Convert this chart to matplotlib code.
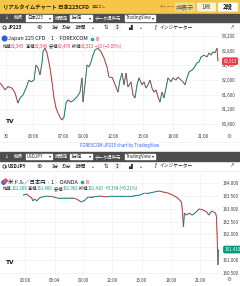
import matplotlib
matplotlib.use("Agg")
import matplotlib.pyplot as plt
import matplotlib.transforms as mtransforms
from matplotlib.collections import LineCollection
from matplotlib.patches import Rectangle, FancyBboxPatch, Circle
import numpy as np

plt.rcParams['font.family'] = ['Noto Sans CJK JP', 'DejaVu Sans']

W, H = 240, 286

# 日本225CFD 1分足 (時刻は取引時間ベース)
jp_hours = [-0.6, -0.3, -0.1, 0.2, 0.6, 0.9, 1.2, 1.4, 1.7, 2.0,
            2.3, 2.5, 2.8, 3.0, 3.2, 3.4, 3.6, 3.7, 3.9, 4.1,
            4.4, 4.6, 4.8, 5.0, 5.2, 5.4, 5.6, 5.8, 6.0, 6.2,
            6.5, 6.8, 7.1, 7.4, 7.6, 7.7, 7.9, 8.1, 8.3, 8.5,
            8.7, 8.9, 9.2, 9.5, 9.8, 10.1, 10.3, 10.6, 10.8, 11.0,
            11.2, 11.4, 11.6, 11.8, 12.0, 12.2, 12.5, 12.7, 12.9, 13.1,
            13.3, 13.6, 13.8, 14.0, 14.2, 14.4, 14.6, 14.8, 15.0, 15.2,
            15.4, 15.6, 15.8, 16.0, 16.2, 16.5, 16.7, 17.0, 17.2, 17.5,
            17.7, 17.9, 18.1, 18.3, 18.6, 18.8, 19.1, 19.3, 19.5, 19.8,
            20.1, 20.3, 20.5, 20.7, 20.9, 21.1, 21.2]
jp_close = [61920, 61820, 61730, 61820, 61780, 61650, 61370, 61510, 61590, 61780,
            62000, 61950, 62000, 62410, 62330, 62140, 62470, 62770, 62870, 62740,
            62330, 61950, 61510, 61240, 61100, 60990, 60910, 60990, 61370, 61460,
            61400, 61460, 61540, 61670, 62060, 61400, 61870, 62410, 62360, 62490,
            62680, 62820, 62870, 62770, 62600, 62360, 62080, 62080, 61950, 61810,
            61670, 62000, 62190, 61870, 62190, 61810, 61950, 61590, 61510, 61870,
            62060, 61870, 61950, 61780, 61870, 62000, 61780, 61670, 61730, 61540,
            61400, 61670, 61510, 61780, 62060, 61950, 62060, 62000, 62080, 62000,
            61950, 61870, 62060, 62220, 62270, 62330, 62470, 62490, 62630, 62680,
            62630, 62740, 62680, 62770, 62740, 62870, 62513]
jp_ticks = [0, 2.7, 5.7, 7.7, 10.7, 13.7, 16.7, 19.7]
jp_tick_labels = ["30", "03:00", "07:00", "09:00", "12:00", "15:00", "18:00", "21:00"]
jp_levels = [60800, 61200, 61600, 62000, 62400, 62800, 63200]
jp_last = 62513

# 米ドル/日本円 1分足
uj_hours = [2.8, 3.2, 3.4, 3.7, 3.8, 4.0, 4.2, 4.5, 4.8, 5.3,
            5.6, 5.9, 6.3, 6.8, 7.3, 7.8, 8.3, 8.8, 9.2, 9.5,
            10.0, 10.7, 11.4, 12.0, 12.7, 13.5, 14.1, 14.8, 15.3, 15.8,
            16.3, 16.8, 17.2, 17.7, 18.2, 18.7, 19.1, 19.2, 19.3, 19.4,
            19.6, 19.9, 20.2, 20.6, 20.9, 21.3, 21.7, 21.9, 22.2, 22.4,
            22.6, 22.7, 22.8, 22.85, 22.9]
uj_close = [163.53, 163.57, 163.49, 163.42, 163.30, 163.38, 163.30, 163.42, 163.46, 163.49,
            163.49, 163.46, 163.42, 163.42, 163.42, 163.42, 163.38, 163.26, 163.34, 163.46,
            163.46, 163.49, 163.46, 163.49, 163.49, 163.49, 163.49, 163.53, 163.61, 163.61,
            163.65, 163.69, 163.65, 163.61, 163.53, 163.42, 163.26, 162.87, 162.29, 162.83,
            162.75, 162.83, 162.75, 162.87, 162.99, 162.95, 162.87, 162.75, 162.91, 162.87,
            162.83, 162.68, 161.51, 160.81, 161.41]
uj_ticks = [3, 6.07, 9, 12, 15, 18, 21]
uj_tick_labels = ["03:00", "06:04", "09:00", "12:00", "15:00", "18:00", "21:00"]
uj_levels = [160.5, 161.0, 161.5, 162.0, 162.5, 163.0, 163.5, 164.0]
uj_last = 161.410

UP, DOWN = '#26a69a', '#ef5350'
TXT = '#131722'

fig = plt.figure(figsize=(W / 100, H / 100), dpi=100)
bg = fig.add_axes([0, 0, 1, 1])
bg.set_xlim(0, W)
bg.set_ylim(H, 0)
bg.axis('off')


def pane(x0, y0, x1, y1, t, p, ticks, labels, levels, fmt, xlim, ylim, hide=None):
    ax = fig.add_axes([x0 / W, 1 - y1 / H, (x1 - x0) / W, (y1 - y0) / H])
    ax.set_xlim(xlim)
    ax.set_ylim(ylim)
    ax.set_xticks(ticks, labels)
    # 現在値ラベルに隠れる目盛は文字を出さない
    ax.set_yticks(levels, ["" if v == hide else fmt(v) for v in levels])
    ax.yaxis.tick_right()
    ax.tick_params(length=0, labelsize=3.2, colors='#3a3d45')
    ax.tick_params(axis='x', pad=2.4)
    ax.tick_params(axis='y', pad=2.2)
    ax.grid(color='#eef0f6', lw=0.5)
    ax.set_axisbelow(True)
    for s in ax.spines.values():
        s.set_visible(False)
    t = np.asarray(t, float)
    p = np.asarray(p, float)
    pts = np.column_stack([t, p])
    segs = np.stack([pts[:-1], pts[1:]], axis=1)
    cols = np.where(np.diff(p) >= 0, UP, DOWN)
    ax.add_collection(LineCollection(segs, colors=cols, linewidths=0.8))
    ax.plot(t, p, color='#3b3e47', lw=0.3, alpha=0.7)
    return ax


def tag(ax, value, text, color):
    trans = mtransforms.blended_transform_factory(ax.transAxes, ax.transData)
    ax.text(1.02, value, text, transform=trans, fontsize=3.2, color='white',
            va='center', ha='left', clip_on=False, zorder=10,
            bbox=dict(boxstyle='round,pad=0.3,rounding_size=0.4', fc=color, ec='none'))


ax1 = pane(0, 33, 219, 131, jp_hours, jp_close, jp_ticks, jp_tick_labels, jp_levels,
           lambda v: f"{v:,.0f}", (-0.6, 21.3), (60610, 63283))
tag(ax1, jp_last, f"{jp_last:,}", '#f23645')

ax2 = pane(0, 174, 220, 275, uj_hours, uj_close, uj_ticks, uj_tick_labels, uj_levels,
           lambda v: f"{v:.3f}", (0.43, 23.06), (160.42, 164.35), hide=161.5)
tag(ax2, uj_last, f"{uj_last:.3f}", '#089981')

ov = fig.add_axes([0, 0, 1, 1])
ov.set_xlim(0, W)
ov.set_ylim(H, 0)
ov.axis('off')
ov.patch.set_visible(False)
r = fig.canvas.get_renderer()


def chain(x, y, parts, size, gap=0.6, weight='normal'):
    for s, c in parts:
        t = ov.text(x, y, s, color=c, fontsize=size, va='center', ha='left',
                    fontweight=weight)
        x = t.get_window_extent(renderer=r).x1 + gap
    return x


def btn(x0, x1, y0, y1, fc):
    ov.add_patch(FancyBboxPatch((x0, y0), x1 - x0, y1 - y0,
                                boxstyle='round,pad=0,rounding_size=1.5', fc=fc, ec='none'))


# ヘッダー
bg.add_patch(Rectangle((0, 0), W, 13.5, color='#f6c649'))
x = chain(3, 7, [("リアルタイムチャート 日本225CFD", '#2b2200')], 3.9, weight='bold')
ov.text(x + 2, 7.3, "遅延なし", fontsize=2.6, color='#6b5a20', va='center')
ov.text(160, 7, "チャート:", fontsize=2.8, color='#8a7a3a', va='center')
btn(175, 195, 2.5, 11.5, '#f1dc8c')
ov.text(185, 7, "非表示", fontsize=4.4, color='#4a4a4a', va='center', ha='center')
btn(197, 216, 2.5, 11.5, '#fbf3d6')
ov.text(206.5, 7, "1段", fontsize=4.4, color='#555', va='center', ha='center')
btn(218, 238, 2.5, 11.5, 'white')
ov.text(228, 7, "2段", fontsize=4.4, color='#111', va='center', ha='center', fontweight='bold')


def toolbars(y, symbol, box_text):
    bg.add_patch(Rectangle((0, y), W, 8.8, color='#4d4d4d'))
    cy = y + 4.4
    ov.text(4, cy, "↓", fontsize=3.4, color='white', va='center', family='DejaVu Sans')
    ov.text(14, cy, "銘柄", fontsize=3.2, color='white', va='center')
    bg.add_patch(Rectangle((26, y + 1.5), 26, 5.8, color='white'))
    ov.text(27, cy, box_text, fontsize=3.2, color='#222', va='center')
    ov.text(51, cy, "▾", fontsize=3, color='#222', va='center', ha='right', family='DejaVu Sans')
    ov.text(55, cy, "時間足", fontsize=3.2, color='white', va='center')
    bg.add_patch(Rectangle((70, y + 1.5), 22, 5.8, color='white'))
    ov.text(71, cy, "1分足", fontsize=3.2, color='#222', va='center')
    ov.text(91, cy, "▾", fontsize=3, color='#222', va='center', ha='right', family='DejaVu Sans')
    ov.text(95, cy, "データ提供元", fontsize=3.2, color='white', va='center')
    bg.add_patch(Rectangle((125, y + 1.5), 30, 5.8, color='white'))
    ov.text(126, cy, "TradingView", fontsize=3.2, color='#222', va='center')
    ov.text(154, cy, "▾", fontsize=3, color='#222', va='center', ha='right', family='DejaVu Sans')
    # 白いツールバー
    ty = y + 8.8 + 5.2
    ov.plot([4.3], [ty - 0.3], marker='o', ms=2.4, mfc='none', mec=TXT, mew=0.5)
    ov.plot([5.2, 6.3], [ty + 0.6, ty + 1.7], color=TXT, lw=0.5)
    ov.text(8, ty, symbol, fontsize=3.4, color=TXT, va='center', fontweight='bold')
    ov.text(39, ty, "⊕", fontsize=4.6, color='#333', va='center', ha='center', family='DejaVu Sans')
    btn(51, 59, ty - 3.2, ty + 3.2, '#f0f3fa')
    ov.text(55, ty, "1分", fontsize=3.2, color=TXT, va='center', ha='center')
    ov.text(67, ty, "30分", fontsize=3.2, color=TXT, va='center', ha='center')
    ov.text(80, ty, "1時間", fontsize=3.2, color=TXT, va='center', ha='center')
    ov.text(92, ty, "⌄", fontsize=3.4, color=TXT, va='center', ha='center', family='DejaVu Sans')
    ov.text(106, ty, "⇅", fontsize=4, color='#333', va='center', ha='center', family='DejaVu Sans')
    btn(113, 121, ty - 3.2, ty + 3.2, '#f0f3fa')
    ov.text(117, ty, "↕", fontsize=4, color='#333', va='center', ha='center', family='DejaVu Sans')
    ov.text(130, ty, "▟", fontsize=3.6, color='#333', va='center', ha='center', family='DejaVu Sans')
    ov.text(140, ty, "⌄", fontsize=3.4, color=TXT, va='center', ha='center', family='DejaVu Sans')
    ov.text(155, ty, "ƒ", fontsize=4, color='#333', va='center', ha='center', family='DejaVu Sans')
    ov.text(160, ty, "インジケーター", fontsize=3.4, color=TXT, va='center')
    ov.text(232, ty, "↗", fontsize=4, color='#555', va='center', ha='center', family='DejaVu Sans')
    bg.plot([0, W], [y + 19.3, y + 19.3], color='#e0e3eb', lw=0.4)


toolbars(13.5, "JP225", "日本225")
toolbars(152, "USDJPY", "USDJPY")

# 凡例 1
ov.add_patch(Circle((4.6, 38.5), 2.3, color='#2a5bd7'))
x = chain(8.5, 38.5, [("Japan 225 CFD · 1 · FOREXCOM", TXT)], 3.9)
ov.plot([x + 3], [38.5], marker='o', ms=1.6, color='#22ab94')
ov.add_patch(Rectangle((x + 7, 37.3), 2.6, 2.4, color='#f7a8b0'))
red = '#f23645'
chain(2.5, 46, [("始値", TXT), ("62,545", red), (" 高値", TXT), ("62,546", red),
                (" 安値", TXT), ("62,476", red), (" 終値", TXT), ("62,513", red),
                (" −32 (−0.05%)", red)], 3.1, gap=0.2)

# 凡例 2
ov.add_patch(Circle((3.6, 182.5), 1.8, color='#3f6fe0'))
ov.add_patch(Circle((5.6, 180.8), 1.6, color='#e5486a'))
x = chain(8.5, 181.5, [("米ドル／日本円 · 1 · OANDA", TXT)], 3.9)
ov.plot([x + 3], [181.5], marker='o', ms=1.6, color='#22ab94')
ov.add_patch(Rectangle((x + 7, 180.3), 2.6, 2.4, color='#f7a8b0'))
grn = '#089981'
chain(2.5, 188.5, [("始値", TXT), ("161.289", grn), (" 高値", TXT), ("161.460", grn),
                   (" 安値", TXT), ("161.062", grn), (" 終値", TXT), ("161.410", grn),
                   (" +0.334 (+0.21%)", grn)], 3.1, gap=0.2)

# TVロゴ・ギア・クレジット
for ty in (121.5, 262.5):
    ov.text(6, ty, "TV", fontsize=4.2, fontweight='bold', color='#131722', va='center',
            family='DejaVu Sans')
for ty in (136, 279.5):
    ov.text(229, ty, "⚙", fontsize=4, color='#666', va='center', ha='center', family='DejaVu Sans')
ov.text(120, 146, "FOREXCOM:JP225 chart by TradingView", fontsize=3.1, color='#2962ff',
        va='center', ha='center')
bg.plot([0, W], [141.5, 141.5], color='#eceef3', lw=0.4)

fig.savefig("out.png", dpi=100)
